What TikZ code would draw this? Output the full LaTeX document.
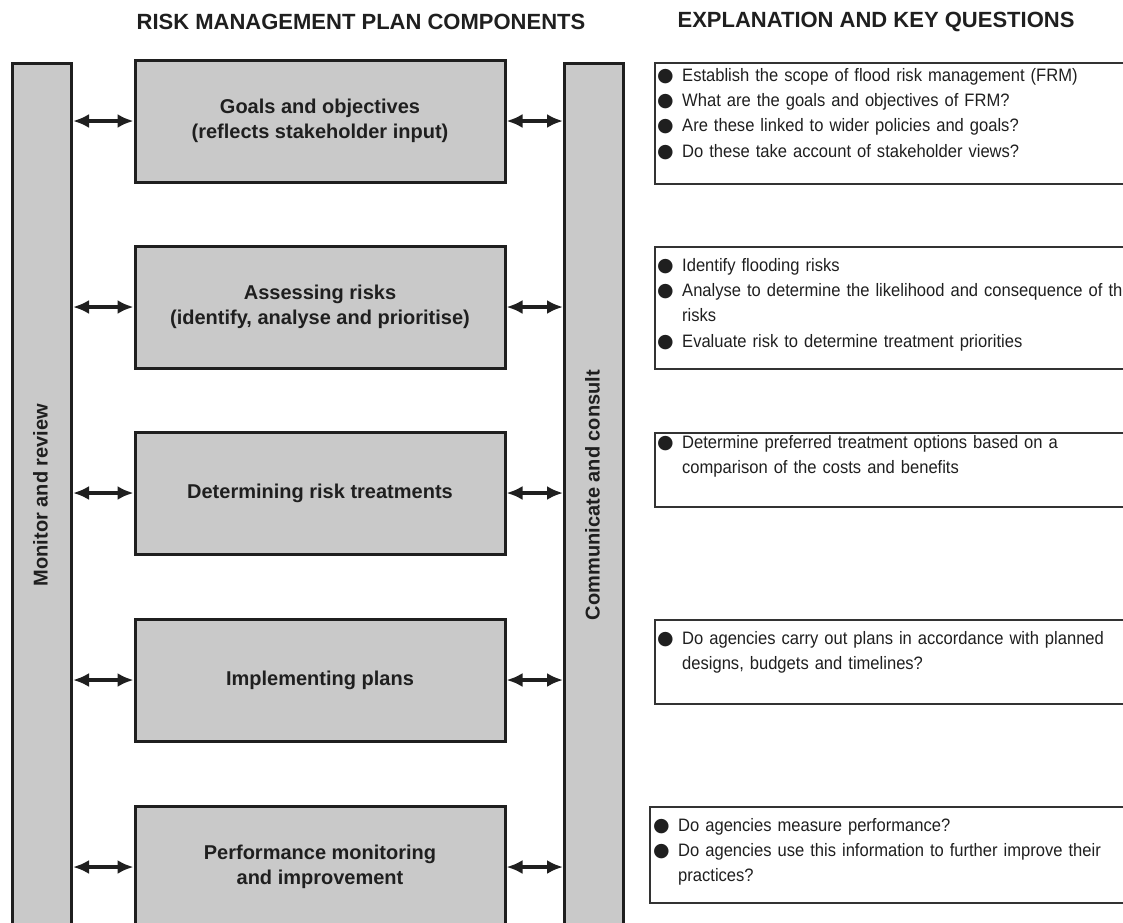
\documentclass[tikz,border=0pt]{standalone}
\usepackage{fontspec}
\setmainfont{Liberation Sans}
\newfontfamily\questfont[FakeStretch=0.92]{Liberation Sans}
\newfontfamily\bulletfont{DejaVu Sans}
\usetikzlibrary{positioning,arrows.meta}
\newcommand{\qbullet}{\makebox[25pt][l]{\bulletfont\fontsize{19}{19}\selectfont ●}}
\newcommand{\qcont}{\hspace*{25pt}}
\begin{document}
\begin{tikzpicture}[x=1pt,y=-1pt,
    compbox/.style={draw=black!88,line width=3pt,fill=black!21,minimum width=370pt,minimum height=122pt,
        align=center,font=\bfseries\fontsize{20}{25.5}\selectfont,text=black!88},
    sidebar/.style={draw=black!88,line width=3pt,fill=black!21,minimum width=59pt,minimum height=880pt,anchor=north west},
    bartext/.style={rotate=90,font=\bfseries\fontsize{20}{24}\selectfont,text=black!88},
    questbox/.style={draw=black!80,line width=1.5pt,minimum width=500pt,anchor=north west},
    questtext/.style={anchor=base west,text width=540pt,align=left,inner sep=0pt,
        font=\questfont\fontsize{18}{25.2}\selectfont,text=black!88},
    heading/.style={font=\bfseries\fontsize{22}{26}\selectfont,text=black!88},
    twoway/.style={line width=3.2pt,black!88,{Latex[length=16pt,width=14pt]}-{Latex[length=16pt,width=14pt]}}]
    \clip (0,0) rectangle (1123,922);
    \node[heading] (CompHead)  at (361,22) {RISK MANAGEMENT PLAN COMPONENTS};
    \node[heading] (QuestHead) at (876,22) {EXPLANATION AND KEY QUESTIONS};
    % side bars
    \node[sidebar] (MonitorBar) at (11,62) {};
    \node[sidebar] (ConsultBar) at (563,62) {};
    \node[bartext] (MonitorText) at (40.5,495) {Monitor and review};
    \node[bartext] (ConsultText) at (592.5,495) {Communicate and consult};
    % plan components
    \node[compbox] (GoalsBox)  at (320,121) {Goals and objectives\\(reflects stakeholder input)};
    \node[compbox] (AssessBox) at (320,307) {Assessing risks\\(identify, analyse and prioritise)};
    \node[compbox] (TreatBox)  at (320,493) {Determining risk treatments};
    \node[compbox] (ImplBox)   at (320,680) {Implementing plans};
    \node[compbox] (PerfBox)   at (320,867) {Performance monitoring\\and improvement};
    \foreach \comp in {GoalsBox,AssessBox,TreatBox,ImplBox,PerfBox}{
        \draw[twoway] (MonitorBar.east |- \comp.west) -- (\comp.west);
        \draw[twoway] (\comp.east) -- (ConsultBar.west |- \comp.east);
    }
    % explanation and key questions
    \node[questbox,minimum height=121pt] (GoalsQ)  at (654,62)  {};
    \node[questbox,minimum height=122pt] (AssessQ) at (654,246) {};
    \node[questbox,minimum height=74pt]  (TreatQ)  at (654,432) {};
    \node[questbox,minimum height=84pt]  (ImplQ)   at (654,619) {};
    \node[questbox,minimum height=96pt]  (PerfQ)   at (649,806) {};
    \node[questtext] (GoalsQText) at (657,81.5) {\qbullet Establish the scope of flood risk management (FRM)\\
        \qbullet What are the goals and objectives of FRM?\\
        \qbullet Are these linked to wider policies and goals?\\
        \qbullet Do these take account of stakeholder views?};
    \node[questtext] (AssessQText) at (657,271.5) {\qbullet Identify flooding risks\\
        \qbullet Analyse to determine the likelihood and consequence of the\\
        \qcont risks\\
        \qbullet Evaluate risk to determine treatment priorities};
    \node[questtext] (TreatQText) at (657,448.5) {\qbullet Determine preferred treatment options based on a\\
        \qcont comparison of the costs and benefits};
    \node[questtext] (ImplQText) at (657,644.5) {\qbullet Do agencies carry out plans in accordance with planned\\
        \qcont designs, budgets and timelines?};
    \node[questtext] (PerfQText) at (653,831.5) {\qbullet Do agencies measure performance?\\
        \qbullet Do agencies use this information to further improve their\\
        \qcont practices?};
\end{tikzpicture}
\end{document}
